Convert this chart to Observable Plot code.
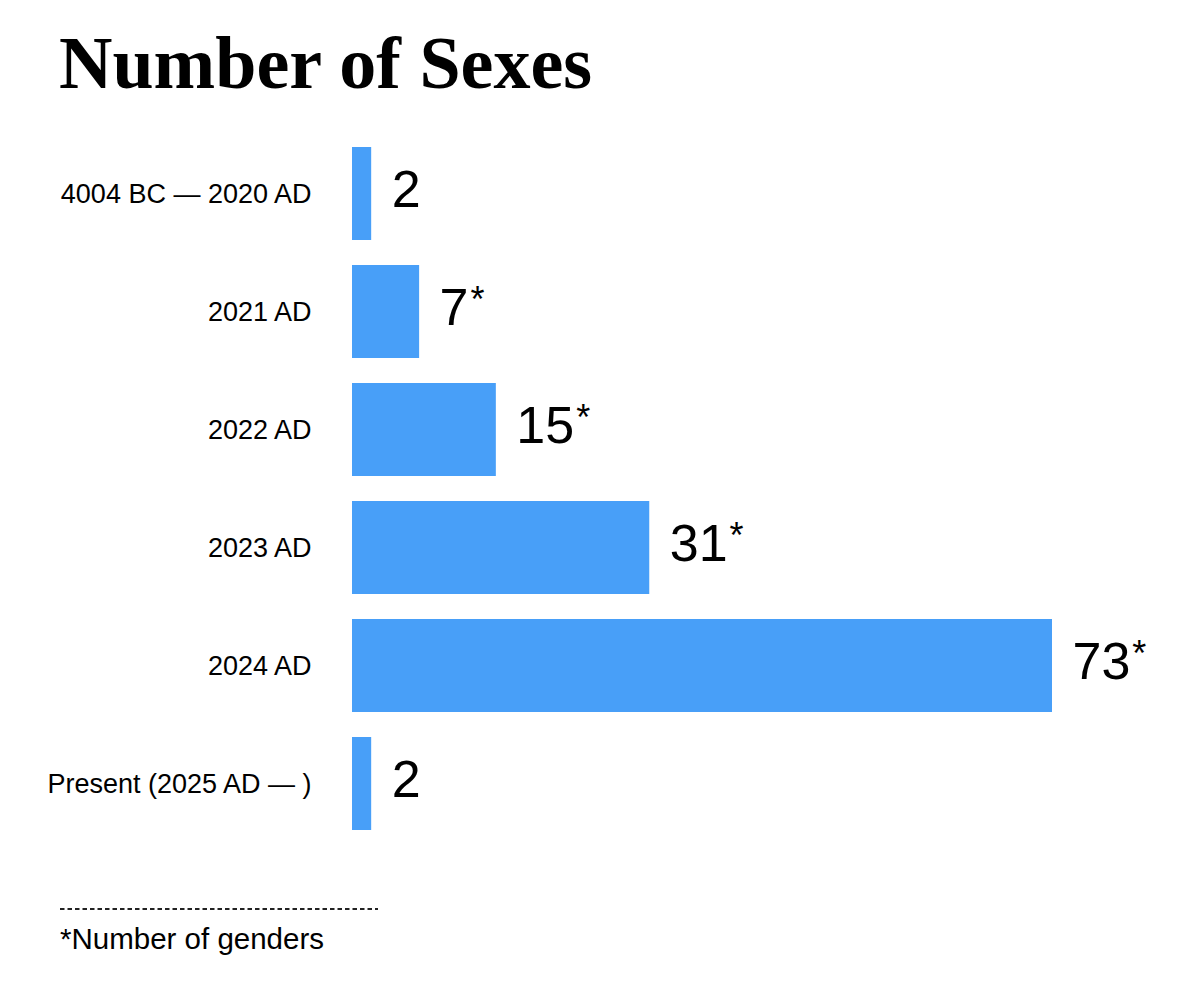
<!DOCTYPE html>
<html>
<head>
<meta charset="utf-8">
<script src="https://cdn.jsdelivr.net/npm/d3@7"></script>
<script src="https://cdn.jsdelivr.net/npm/@observablehq/plot@0.6"></script>
<style>
  html, body { margin: 0; padding: 0; background: #fff; }
  body { width: 1200px; height: 989px; position: relative; overflow: hidden; font-family: "Liberation Sans", Arial, Helvetica, sans-serif; color: #000; }
  #title { position: absolute; left: 59px; top: 26px; margin: 0; font: bold 74px/74px "Liberation Serif", "Times New Roman", serif; white-space: nowrap; color: #000; }
  #chart { position: absolute; left: 0; top: 134.6px; }
  #rule { position: absolute; left: 60px; top: 907px; }
  #note { position: absolute; left: 60px; top: 924px; font: 29.5px/29.5px "Liberation Sans", Arial, sans-serif; white-space: nowrap; color: #000; }
</style>
</head>
<body>
<h1 id="title">Number of Sexes</h1>
<div id="chart"></div>
<svg id="rule" width="320" height="4"><line x1="0" x2="318" y1="2" y2="2" stroke="#222" stroke-width="1.8" stroke-dasharray="4.5 3"></line></svg>
<div id="note">*Number of genders</div>
<script>
const periods = ["4004 BC — 2020 AD", "2021 AD", "2022 AD", "2023 AD", "2024 AD", "Present (2025 AD — )"];
const counts = [2, 7, 15, 31, 73, 2];
const genderCount = [false, true, true, true, true, false];

const data = periods.map((p, i) => ({period: p, count: counts[i], star: genderCount[i]}));

const chart = Plot.plot({
  width: 1200,
  height: 708,
  marginLeft: 352,
  marginRight: 148,
  marginTop: 0,
  marginBottom: 0,
  x: {domain: [0, d3.max(counts)], axis: null},
  y: {domain: periods, paddingInner: 0.21, paddingOuter: 0.105, label: null},
  style: {fontFamily: "Liberation Sans, Arial, Helvetica, sans-serif", color: "#000", background: "transparent", overflow: "visible"},
  marks: [
    Plot.axisY({tickSize: 0, tickPadding: 41, fontSize: 27, label: null, fill: "#000"}),
    Plot.barX(data, {x: "count", y: "period", fill: "#489ff8"}),
    Plot.text(data, {x: "count", y: "period", text: d => String(d.count), textAnchor: "start", dx: 20, dy: -4, fontSize: 52, fill: "#000"})
  ]
});

d3.select(chart).selectAll('g[aria-label="text"] text').each(function() {
  const i = this.__data__;
  if (data[i] && data[i].star) {
    d3.select(this).append("tspan").attr("font-size", 36).attr("dx", 2).attr("dy", -13).text("*");
  }
});

document.getElementById("chart").appendChild(chart);
</script>
</body>
</html>
